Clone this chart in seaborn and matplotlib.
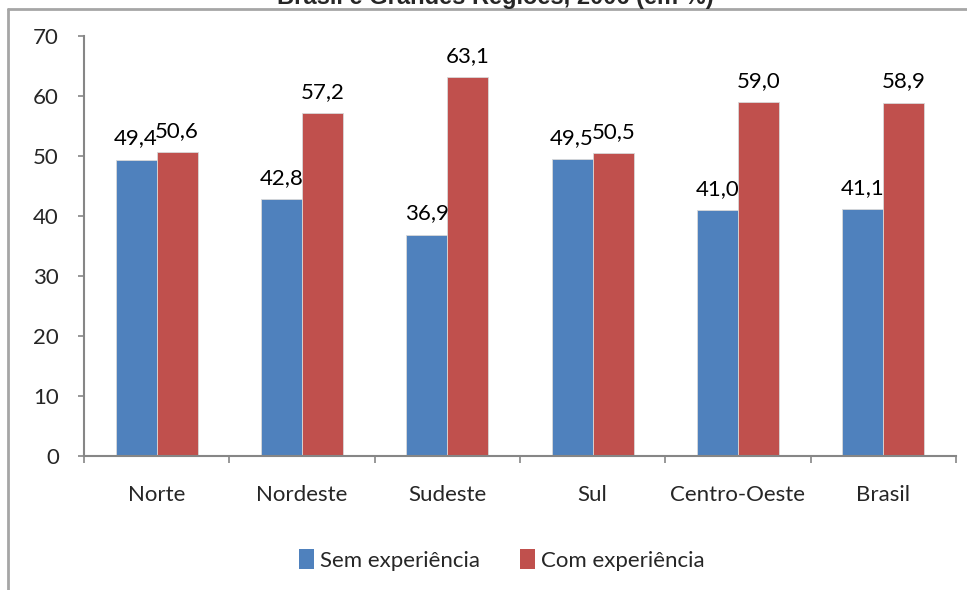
import matplotlib
matplotlib.use("Agg")
import matplotlib.pyplot as plt
import seaborn as sns
import pandas as pd
from matplotlib.lines import Line2D
from matplotlib.patches import Patch
from matplotlib.ticker import FixedLocator

regioes = ["Norte", "Nordeste", "Sudeste", "Sul", "Centro-Oeste", "Brasil"]
sem_experiencia = [49.4, 42.8, 36.9, 49.5, 41.0, 41.1]
com_experiencia = [50.6, 57.2, 63.1, 50.5, 59.0, 58.9]
series = ["Sem experiência", "Com experiência"]
cores = ["#4F81BD", "#C0504D"]
titulo = "Brasil e Grandes Regiões, 2006 (em %)"
yticks = [0, 10, 20, 30, 40, 50, 60, 70]

df = pd.DataFrame({
    "regiao": regioes * 2,
    "valor": sem_experiencia + com_experiencia,
    "serie": [series[0]] * len(regioes) + [series[1]] * len(regioes),
})

sns.set_theme(style="white")
plt.rcParams["font.family"] = ["Lato", "DejaVu Sans"]
FS = 16

fig = plt.figure(figsize=(9.67, 5.90), dpi=100)
ax = fig.add_axes([84/967, 1-456/590, (956-84)/967, (456-36)/590])

sns.barplot(data=df, x="regiao", y="valor", hue="serie", order=regioes,
            hue_order=series, palette=cores, width=0.566, ax=ax,
            edgecolor="#d9d9d9", linewidth=0.6, legend=False, saturation=1)

for cont in ax.containers:
    ax.bar_label(cont, labels=[f"{b.get_height():.1f}".replace(".", ",") for b in cont],
                 padding=8, fontsize=FS, color="black")

ax.set_ylim(0, 70)
ax.set_xlim(-0.5, len(regioes) - 0.5)
ax.set_yticks(yticks)
ax.set_yticklabels([str(v) for v in yticks], fontsize=FS)
ax.set_xticks(range(len(regioes)))
ax.set_xticklabels(regioes, fontsize=FS)
ax.set_xlabel("")
ax.set_ylabel("")

axis_col = "#868686"
for s in ["top", "right"]:
    ax.spines[s].set_visible(False)
for s in ["left", "bottom"]:
    ax.spines[s].set_color(axis_col)
    ax.spines[s].set_linewidth(1.5)

ax.tick_params(axis="y", length=4, width=1.2, color=axis_col, pad=14, direction="out", left=True)
ax.tick_params(axis="x", length=0, pad=21)
ax.xaxis.set_minor_locator(FixedLocator([i - 0.5 for i in range(len(regioes) + 1)]))
ax.tick_params(axis="x", which="minor", length=5, width=1.2, color=axis_col, direction="out", bottom=True)

handles = [Patch(facecolor=c, edgecolor="none") for c in cores]
fig.legend(handles, series, loc="center", bbox_to_anchor=(502/967, 1-560/590),
           ncol=2, frameon=False, fontsize=FS, handlelength=0.65, handleheight=1.0,
           handletextpad=0.3, columnspacing=1.8)

fig.add_artist(Line2D([8/967, 1], [1-9/590, 1-9/590], transform=fig.transFigure,
                      color="#a6a6a6", linewidth=2))
fig.add_artist(Line2D([8/967, 8/967], [0, 1-9/590], transform=fig.transFigure,
                      color="#a6a6a6", linewidth=2))

fig.text(495/967, 1-4/590, titulo, ha="center", va="baseline", fontsize=17,
         fontweight="bold", family=["Liberation Sans", "DejaVu Sans"])

fig.savefig("out.png", dpi=100)
